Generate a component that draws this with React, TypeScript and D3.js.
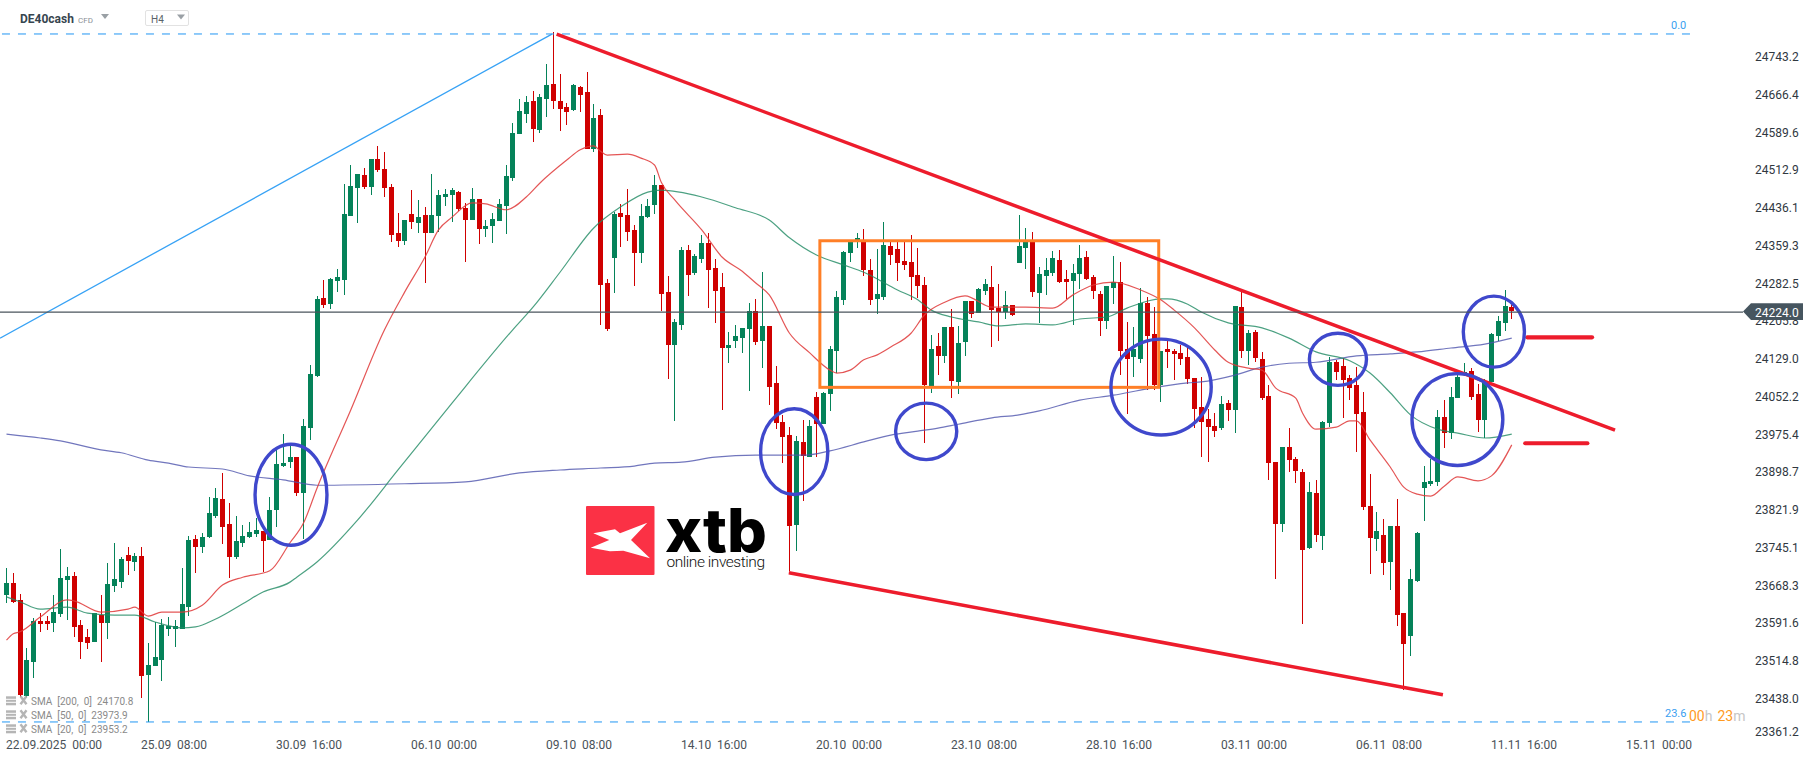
import React from "react";
import * as d3 from "d3";

const opens = [
23649,23673,23639,23444,23513,23596,23596,23592,23610,23679,
23688,23588,23563,23553,23608,23592,23667,23675,23730,23716,
23728,23486,23504,23517,23580,23580,23580,23624,23763,23746,
23767,23810,23844,23793,23726,23755,23767,23773,23779,23761,
23822,23911,23919,23929,23856,23988,24094,24253,24240,24287,
24289,24419,24476,24503,24478,24535,24515,24478,24385,24369,
24423,24405,24421,24385,24419,24458,24462,24468,24436,24411,
24454,24393,24399,24409,24440,24497,24586,24627,24653,24594,
24657,24688,24653,24641,24635,24682,24671,24556,24625,24283,
24334,24425,24421,24391,24344,24417,24442,24482,24265,24157,
24198,24350,24303,24332,24364,24314,24275,24151,24165,24171,
24190,24226,24165,24196,24080,24001,23974,23791,23960,23929,
24051,23996,24058,24145,24249,24344,24366,24366,24310,24251,
24255,24358,24352,24328,24326,24299,24279,24074,24155,24135,
24194,24082,24163,24247,24222,24267,24275,24232,24224,24238,
24324,24354,24366,24263,24297,24303,24330,24291,24287,24301,
24336,24295,24261,24206,24273,24285,24149,24133,24129,24242,
24179,24076,24149,24145,24141,24133,24090,24031,24007,23992,
23988,24039,24025,24234,24145,24184,24129,24053,23919,23793,
23950,23925,23899,23744,23856,23769,23999,24122,24114,24090,
24076,24021,23830,23763,23771,23716,23789,23612,23565,23677,
23866,23875,23879,24011,23978,24049,24096,24104,24058,24005,
24082,24175,24202,24234];

const highs = [
23704,23694,23651,23541,23602,23612,23606,23649,23742,23706,
23696,23598,23580,23612,23649,23714,23755,23726,23746,23734,
23746,23551,23594,23600,23604,23598,23704,23769,23771,23775,
23848,23866,23897,23836,23810,23791,23797,23805,23779,23848,
23946,23976,23954,23929,24007,24116,24257,24289,24293,24312,
24484,24523,24505,24517,24535,24562,24549,24484,24425,24411,
24472,24452,24438,24505,24472,24474,24476,24470,24446,24476,
24454,24411,24425,24454,24523,24608,24657,24663,24673,24667,
24728,24793,24708,24649,24688,24684,24712,24647,24637,24291,
24428,24444,24474,24401,24444,24454,24503,24482,24297,24210,
24356,24360,24342,24381,24385,24332,24303,24184,24198,24192,
24242,24251,24305,24196,24114,24015,23990,23972,24005,24005,
24062,24062,24155,24267,24348,24371,24385,24393,24332,24352,
24407,24366,24371,24366,24381,24354,24295,24177,24181,24194,
24230,24196,24247,24247,24273,24291,24318,24281,24267,24238,
24421,24395,24387,24316,24334,24348,24350,24310,24322,24360,
24348,24299,24267,24277,24338,24326,24204,24194,24273,24255,
24234,24145,24167,24149,24157,24153,24090,24092,24027,24019,
24053,24045,24236,24269,24188,24188,24143,24076,23919,23950,
23988,23929,23905,23879,23883,24003,24133,24127,24131,24096,
24112,24062,23895,23818,23803,23789,23844,23612,23702,23777,
23911,23925,24025,24045,24072,24106,24120,24110,24078,24088,
24181,24216,24269,24244];

const lows = [
23633,23633,23442,23440,23480,23574,23578,23574,23604,23598,
23563,23519,23539,23553,23513,23559,23655,23663,23689,23698,
23440,23391,23504,23474,23565,23543,23580,23606,23694,23734,
23765,23805,23753,23683,23722,23746,23765,23767,23696,23761,
23787,23909,23907,23850,23763,23964,24092,24232,24230,24265,
24259,24419,24405,24474,24462,24509,24458,24366,24356,24360,
24393,24385,24283,24385,24387,24440,24407,24430,24326,24411,
24362,24377,24364,24409,24383,24491,24586,24608,24570,24588,
24621,24637,24592,24604,24633,24631,24556,24549,24198,24186,
24263,24356,24369,24277,24324,24415,24423,24226,24088,24003,
24188,24257,24299,24324,24232,24202,24025,24120,24151,24141,
24064,24157,24110,24035,23986,23917,23698,23738,23840,23929,
23929,23996,24023,24100,24238,24326,24354,24297,24238,24220,
24249,24320,24287,24310,24249,24253,23958,24060,24096,24120,
24049,24058,24135,24212,24222,24259,24153,24165,24210,24216,
24324,24312,24255,24202,24259,24297,24283,24251,24198,24271,
24289,24251,24175,24190,24240,24096,24017,24092,24120,24066,
24066,24041,24110,24086,24116,24078,23988,23929,23919,23970,
23984,24003,23978,24131,24116,24122,24045,23883,23681,23777,
23899,23877,23590,23742,23757,23740,23990,24086,24009,24045,
23940,23822,23692,23738,23689,23659,23586,23456,23525,23675,
23799,23870,23870,23948,23966,24049,24094,24045,23980,23968,
24082,24165,24186,24210];

const closes = [
23673,23635,23446,23517,23596,23590,23590,23614,23683,23688,
23584,23553,23551,23612,23592,23671,23681,23722,23718,23728,
23484,23506,23523,23588,23586,23586,23631,23761,23746,23767,
23816,23846,23787,23726,23759,23769,23777,23781,23759,23822,
23915,23917,23929,23856,23992,24098,24251,24238,24291,24295,
24423,24480,24505,24478,24535,24513,24476,24381,24369,24411,
24407,24417,24385,24421,24462,24464,24472,24434,24411,24454,
24393,24399,24413,24444,24501,24588,24633,24651,24596,24661,
24686,24653,24637,24631,24686,24665,24556,24619,24279,24190,
24423,24417,24387,24344,24419,24440,24482,24261,24157,24204,
24350,24299,24338,24364,24310,24267,24151,24157,24175,24192,
24226,24163,24196,24072,23999,23970,23789,23962,23931,23992,
23996,24060,24149,24255,24346,24366,24375,24310,24249,24261,
24360,24340,24324,24320,24295,24277,24076,24149,24135,24194,
24084,24161,24247,24220,24271,24281,24228,24224,24238,24218,
24358,24369,24265,24301,24310,24334,24285,24285,24303,24334,
24291,24267,24206,24277,24285,24145,24129,24149,24242,24175,
24076,24145,24143,24139,24129,24088,24027,24001,23990,23982,
24037,24025,24236,24145,24181,24131,24049,23917,23793,23950,
23923,23901,23740,23858,23771,24001,24122,24102,24086,24070,
24017,23828,23765,23779,23714,23789,23608,23549,23681,23775,
23879,23881,24011,23978,24051,24092,24102,24051,24005,24084,
24179,24206,24236,24226];

// moving averages, read at selected bars: [bar, price]
const sma200: [number, number][] = [[0,23976],[5,23968],[8,23962],[14,23944],[17,23938],[21,23923],[24,23917],[27,23909],[32,23905],[36,23891],[41,23883],[46,23872],[59,23875],[68,23879],[76,23897],[82,23903],[88,23907],[93,23911],[96,23917],[100,23919],[105,23929],[111,23933],[116,23933],[118,23933],[122,23942],[127,23960],[131,23974],[135,23982],[138,23988],[141,23996],[146,24009],[150,24015],[153,24023],[159,24045],[164,24055],[169,24068],[175,24080],[177,24082],[182,24096],[186,24112],[190,24120],[194,24122],[200,24135],[205,24139],[209,24143],[214,24151],[219,24159],[223,24171]];
const sma50: [number, number][] = [[0,23645],[2,23635],[5,23620],[9,23624],[12,23612],[16,23608],[19,23608],[22,23594],[26,23582],[28,23584],[31,23600],[35,23631],[38,23655],[42,23675],[43,23685],[46,23716],[52,23801],[58,23903],[66,24039],[75,24188],[78,24234],[82,24305],[87,24395],[91,24438],[95,24468],[97,24472],[103,24458],[108,24436],[113,24411],[116,24375],[120,24340],[124,24320],[127,24305],[132,24269],[135,24249],[137,24228],[140,24214],[144,24204],[147,24196],[151,24200],[155,24198],[159,24210],[163,24214],[166,24232],[171,24251],[172,24251],[175,24240],[177,24224],[181,24202],[186,24192],[190,24171],[194,24143],[199,24125],[202,24100],[205,24060],[208,24015],[212,23986],[215,23978],[219,23968],[223,23976]];
const sma20: [number, number][] = [[0,23557],[1,23570],[2,23574],[5,23604],[9,23639],[10,23637],[14,23614],[18,23620],[19,23624],[21,23606],[23,23614],[26,23614],[29,23628],[32,23669],[35,23685],[39,23698],[42,23755],[44,23795],[46,23866],[51,24025],[56,24188],[59,24265],[62,24336],[64,24391],[66,24417],[69,24446],[71,24444],[74,24432],[77,24458],[79,24486],[83,24533],[85,24554],[87,24562],[88,24551],[89,24543],[92,24545],[94,24537],[96,24523],[97,24488],[99,24452],[103,24391],[106,24336],[109,24307],[111,24283],[113,24259],[116,24181],[119,24141],[122,24106],[123,24100],[125,24106],[127,24127],[129,24137],[131,24153],[134,24181],[136,24218],[139,24244],[142,24257],[146,24234],[151,24234],[155,24232],[158,24259],[161,24279],[164,24285],[168,24269],[171,24249],[173,24228],[176,24192],[179,24147],[181,24122],[184,24110],[186,24106],[188,24070],[191,24049],[192,24019],[194,23986],[197,23990],[199,24003],[200,24003],[202,23964],[205,23909],[207,23868],[209,23854],[211,23850],[213,23870],[215,23889],[218,23881],[220,23891],[223,23954]];

const yTicks = [24743.2,24666.4,24589.6,24512.9,24436.1,24359.3,24282.5,24205.8,24129.0,24052.2,23975.4,23898.7,23821.9,23745.1,23668.3,23591.6,23514.8,23438.0,23361.2];
const xTicks = ["22.09.2025  00:00","25.09  08:00","30.09  16:00","06.10  00:00","09.10  08:00","14.10  16:00","20.10  00:00","23.10  08:00","28.10  16:00","03.11  00:00","06.11  08:00","11.11  16:00","15.11  00:00"];
const lastPrice = 24224.0;
const legendRows = ["SMA  [200,  0]  24170.8","SMA  [50,  0]  23973.9","SMA  [20,  0]  23953.2"];

// drawn annotations, expressed as [bar, price]
const fibLevels = [{ price: 24789.4, label: "0.0" }, { price: 23390.7, label: "23.6" }];
const fibBars = [-0.67, 249.5];
const swingLine: [number, number][] = [[-0.96,24171],[80.8,24789]];
const redLines: [number, number][][] = [[[81.5,24789],[238.3,23984]],[[115.9,23694],[212.8,23446]]];
const redLevels: [number, number, number][] = [[225.3,234.9,24172.7],[225,234.2,23957.3]];
const rangeBox = { bar0: 120.5, bar1: 170.7, top: 24369, bottom: 24071 };
const rings: [number, number, number, number][] = [
  [36.6,47.7,23958.5,23747],[111.5,121.9,24030.5,23850],[131.5,141,24042,23921],
  [163.4,178.7,24172,23971],[192.8,201.7,24184,24072],[208,221.9,24102,23909],[215.6,225.1,24259.4,24109],
];

const W = 1815, H = 761;
const x = d3.scaleLinear().domain([0, 240]).range([6.5, 1626.5]);
const y = d3.scaleLinear().domain([23438, 24743.2]).range([698.7, 56.7]);
const font = "Roboto, sans-serif";
const UP = "#058259", DOWN = "#cf0000", BLUE = "#2196f3", RED = "#ed1c2c", RING = "#3f48cc";

const smaLine = d3.line<[number, number]>().x(d => x(d[0])).y(d => y(d[1])).curve(d3.curveMonotoneX);
const straight = d3.line<[number, number]>().x(d => x(d[0])).y(d => y(d[1]));

function Tri({ cx, cy, w = 8 }: { cx: number; cy: number; w?: number }) {
  return <path d={`M${cx - w / 2},${cy - 2.5}L${cx + w / 2},${cy - 2.5}L${cx},${cy + 2.5}Z`} fill="#9aa0a5" />;
}

export default function App() {
  return (
    <svg width={W} height={H} viewBox={`0 0 ${W} ${H}`} style={{ position: "absolute", left: 0, top: 0, display: "block", background: "#fff", fontFamily: font }}>
      <g shapeRendering="crispEdges">
        {opens.map((o, i) => {
          const c = closes[i];
          const col = c >= o ? UP : DOWN;
          const left = Math.round(x(i) - 2.5);
          const t = y(Math.max(o, c)), b = y(Math.min(o, c));
          return (
            <g key={i}>
              <rect x={left + 2} y={y(highs[i])} width={1} height={y(lows[i]) - y(highs[i])} fill={col} />
              <rect x={left} y={t} width={5} height={Math.max(1, b - t)} fill={col} />
            </g>
          );
        })}
      </g>

      <path d={smaLine(sma200)!} fill="none" stroke="#4e54ad" strokeOpacity={0.8} strokeWidth={1.2} />
      <path d={smaLine(sma50)!} fill="none" stroke="#1f8a63" strokeOpacity={0.8} strokeWidth={1.2} />
      <path d={smaLine(sma20)!} fill="none" stroke="#df3838" strokeOpacity={0.85} strokeWidth={1.2} />

      {fibLevels.map(l => (
        <g key={l.label}>
          <line x1={x(fibBars[0])} x2={x(fibBars[1])} y1={y(l.price)} y2={y(l.price)} stroke={BLUE} strokeWidth={1} strokeDasharray="8 8" />
          <text x={l.label === "0.0" ? 1671 : 1665} y={y(l.price) - 5} fontSize={11} fill="#3aa0f0">{l.label}</text>
        </g>
      ))}
      <path d={straight(swingLine)!} fill="none" stroke="#37a2f5" strokeWidth={1.3} />
      <rect x={x(rangeBox.bar0)} y={y(rangeBox.top)} width={x(rangeBox.bar1) - x(rangeBox.bar0)} height={y(rangeBox.bottom) - y(rangeBox.top)} fill="none" stroke="#ff7f27" strokeWidth={3} />
      {redLines.map((l, i) => <path key={i} d={straight(l)!} fill="none" stroke={RED} strokeWidth={3.5} />)}
      {redLevels.map((l, i) => <line key={i} x1={x(l[0])} x2={x(l[1])} y1={y(l[2])} y2={y(l[2])} stroke={RED} strokeWidth={4.2} strokeLinecap="round" />)}
      {rings.map((r, i) => (
        <ellipse key={i} cx={(x(r[0]) + x(r[1])) / 2} cy={(y(r[2]) + y(r[3])) / 2} rx={(x(r[1]) - x(r[0])) / 2 - 1.5} ry={(y(r[3]) - y(r[2])) / 2 - 1.5} fill="none" stroke={RING} strokeWidth={3.4} />
      ))}

      <line x1={0} x2={1743} y1={y(lastPrice)} y2={y(lastPrice)} stroke="#4a555d" strokeWidth={1.4} />

      {/* logo */}
      <g>
        <rect x={586} y={506} width={68.5} height={69} rx={1} fill="#fb3145" />
        <path d="M593.3,533.3L615,529.3L620,533.3L647.3,522.7L631,540L650,558.3L623.3,550.7L610,551.3L590.7,547.7L609.3,540Z" fill="#fff" />
        <text x={665} y={551.7} fontSize={60} fontWeight={800} fontFamily="Inter, Roboto, sans-serif" fill="#000" textLength={102} lengthAdjust="spacingAndGlyphs">xtb</text>
        <text x={666.5} y={567} fontSize={15.5} fontFamily="Roboto, sans-serif" fontWeight={300} fill="#111" textLength={98.5} lengthAdjust="spacing">online investing</text>
      </g>

      {/* price axis */}
      {yTicks.map(t => (
        <text key={t} x={1755} y={Math.min(y(t), 731.5)} dy="0.36em" fontSize={12} fill="#30383f">{t.toFixed(1)}</text>
      ))}
      <path d="M1743,311.5L1751,303.3L1803,303.3L1803,320L1751,320Z" fill="#46555f" />
      <text x={1755} y={312.3} dy="0.36em" fontSize={12} fill="#fff">{lastPrice.toFixed(1)}</text>

      {/* time axis */}
      {xTicks.map((t, i) => (
        <text key={t} x={x(i * 20) - 0.5} y={744.7} dy="0.36em" fontSize={12} fill="#4a5258" style={{ whiteSpace: "pre" }}>{t}</text>
      ))}

      {/* header */}
      <text x={20} y={19} dy="0.36em" fontSize={12} fontWeight={700} fill="#36454f">DE40cash</text>
      <text x={78} y={20} dy="0.36em" fontSize={8} fill="#8a9096">CFD</text>
      <Tri cx={105} cy={16.5} />
      <rect x={145.5} y={10.5} width={43} height={15} rx={1.5} fill="#fff" stroke="#e2e2e2" />
      <text x={151} y={19.5} dy="0.36em" fontSize={10} fill="#5b6369">H4</text>
      <Tri cx={181} cy={17} />

      {/* indicator legend */}
      {legendRows.map((t, i) => {
        const cy = 701.3 + i * 14;
        return (
          <g key={t}>
            <g fill="#b5b5b5">
              <rect x={6} y={cy - 5} width={10} height={2.5} />
              <rect x={6} y={cy - 1.5} width={10} height={2} />
              <rect x={6} y={cy + 1.5} width={10} height={2.5} />
            </g>
            <path d={`M20.5,${cy - 5}L26.5,${cy + 3}M26.5,${cy - 5}L20.5,${cy + 3}`} stroke="#b5b5b5" strokeWidth={2.4} />
            <text x={31} y={cy + 0.5} dy="0.36em" fontSize={10} fill="#8a8a8a" style={{ whiteSpace: "pre" }}>{t}</text>
          </g>
        );
      })}

      {/* candle countdown */}
      <text y={716} dy="0.36em" fontSize={14}>
        <tspan x={1689} fill="#ff9a1f">00</tspan><tspan fill="#c6c6c6">h</tspan>
        <tspan x={1717.5} fill="#ff9a1f">23</tspan><tspan fill="#c6c6c6">m</tspan>
      </text>
    </svg>
  );
}
